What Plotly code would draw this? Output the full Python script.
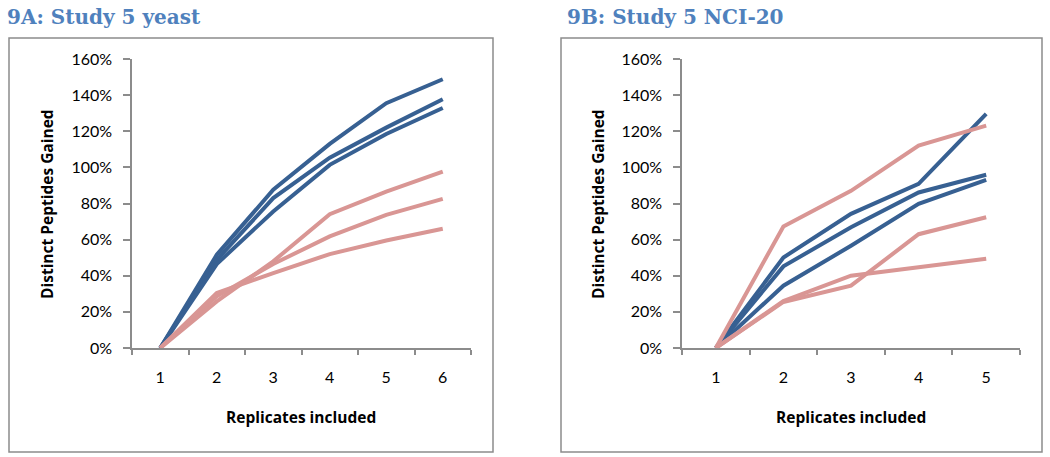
import plotly.graph_objects as go

# Data (percent of distinct peptides gained vs replicates included)
yeast_reps = ["1", "2", "3", "4", "5", "6"]
yeast_blue_a = [0, 51.6, 87.6, 113.0, 135.5, 148.8]
yeast_blue_b = [0, 48.8, 83.0, 105.4, 122.0, 137.7]
yeast_blue_c = [0, 46.5, 75.6, 101.4, 118.5, 132.9]
yeast_pink_a = [0, 25.8, 48.0, 74.1, 86.6, 97.7]
yeast_pink_b = [0, 28.6, 46.5, 61.8, 73.7, 82.6]
yeast_pink_c = [0, 30.4, 41.5, 52.0, 59.5, 66.0]

nci_reps = ["1", "2", "3", "4", "5"]
nci_blue_a = [0, 50.1, 74.3, 90.9, 129.6]
nci_blue_b = [0, 45.2, 66.9, 86.1, 95.9]
nci_blue_c = [0, 34.5, 56.6, 79.8, 93.1]
nci_pink_a = [0, 67.3, 87.0, 112.0, 123.1]
nci_pink_b = [0, 25.5, 34.5, 63.0, 72.4]
nci_pink_c = [0, 26.0, 40.0, 44.8, 49.4]

y_ticks = [0, 20, 40, 60, 80, 100, 120, 140, 160]
y_tick_labels = ["0%", "20%", "40%", "60%", "80%", "100%", "120%", "140%", "160%"]

BLUE = "#376092"
PINK = "#D99694"
AXIS_GREY = "#8C8C8C"
TICK_FONT = dict(family="Lato, 'Open Sans', sans-serif", size=16, color="#000000")
LABEL_FONT = dict(family="'Open Sans', Lato, sans-serif", size=15.5, color="#000000")
TITLE_FONT = dict(family="'DejaVu Serif', serif", size=20, color="#4F81BD")

W, H = 1050, 457

fig = go.Figure()

# left panel - yeast
for ys in [yeast_blue_a, yeast_blue_b, yeast_blue_c]:
    fig.add_trace(go.Scatter(x=yeast_reps, y=ys, mode="lines",
                             line=dict(color=BLUE, width=4), xaxis="x", yaxis="y", showlegend=False))
for ys in [yeast_pink_a, yeast_pink_b, yeast_pink_c]:
    fig.add_trace(go.Scatter(x=yeast_reps, y=ys, mode="lines",
                             line=dict(color=PINK, width=4), xaxis="x", yaxis="y", showlegend=False))

# right panel - NCI-20
for ys in [nci_blue_a, nci_blue_b, nci_blue_c]:
    fig.add_trace(go.Scatter(x=nci_reps, y=ys, mode="lines",
                             line=dict(color=BLUE, width=4), xaxis="x2", yaxis="y2", showlegend=False))
for ys in [nci_pink_a, nci_pink_b, nci_pink_c]:
    fig.add_trace(go.Scatter(x=nci_reps, y=ys, mode="lines",
                             line=dict(color=PINK, width=4), xaxis="x2", yaxis="y2", showlegend=False))


def xaxis_style(domain, n, anchor):
    return dict(
        domain=domain, anchor=anchor, type="category",
        range=[-0.5, n - 0.5], tickson="boundaries",
        showline=True, linecolor=AXIS_GREY, linewidth=1.5,
        ticks="outside", ticklen=5, tickcolor=AXIS_GREY, tickwidth=1.5,
        showgrid=False, zeroline=False, tickfont=TICK_FONT,
        ticklabelstandoff=14, automargin=False,
    )


def yaxis_style(anchor):
    return dict(
        domain=[1 - 348 / H, 1 - 59 / H], anchor=anchor,
        range=[0, 160], tickmode="array", tickvals=y_ticks, ticktext=y_tick_labels,
        showline=True, linecolor=AXIS_GREY, linewidth=1.5,
        ticks="outside", ticklen=7, tickcolor=AXIS_GREY, tickwidth=1.5,
        showgrid=False, zeroline=False, tickfont=TICK_FONT,
        ticklabelstandoff=8, automargin=False,
    )


fig.update_layout(
    width=W, height=H,
    margin=dict(l=0, r=0, t=0, b=0, autoexpand=False),
    paper_bgcolor="white", plot_bgcolor="white",
    xaxis=xaxis_style([132 / W, 471 / W], len(yeast_reps), "y"),
    yaxis=yaxis_style("x"),
    xaxis2=xaxis_style([682 / W, 1020 / W], len(nci_reps), "y2"),
    yaxis2=yaxis_style("x2"),
)

# panel borders
for x0, x1 in [(9, 493), (561, 1042)]:
    fig.add_shape(type="rect", xref="paper", yref="paper",
                  x0=x0 / W, x1=x1 / W, y0=1 - 452 / H, y1=1 - 38 / H,
                  line=dict(color="#8C8C8C", width=1.5), layer="below")

# panel titles
fig.add_annotation(text="<b>9A: Study 5 yeast</b>", xref="paper", yref="paper",
                   x=5 / W, y=1 - 17 / H, xanchor="left", yanchor="middle",
                   showarrow=False, font=TITLE_FONT)
fig.add_annotation(text="<b>9B: Study 5 NCI-20</b>", xref="paper", yref="paper",
                   x=565 / W, y=1 - 17 / H, xanchor="left", yanchor="middle",
                   showarrow=False, font=TITLE_FONT)

# axis titles
for cx in [47, 598]:
    fig.add_annotation(text="<b>Distinct Peptides Gained</b>", xref="paper", yref="paper",
                       x=cx / W, y=1 - 204 / H, textangle=-90,
                       xanchor="center", yanchor="middle", showarrow=False, font=LABEL_FONT)
for cx in [301, 851]:
    fig.add_annotation(text="<b>Replicates included</b>", xref="paper", yref="paper",
                       x=cx / W, y=1 - 417 / H,
                       xanchor="center", yanchor="middle", showarrow=False, font=LABEL_FONT)

# the page body keeps its default 8px margin otherwise
fig.write_html("out.html", config=dict(displayModeBar=False),
               post_script="document.body.style.margin = '0';")
